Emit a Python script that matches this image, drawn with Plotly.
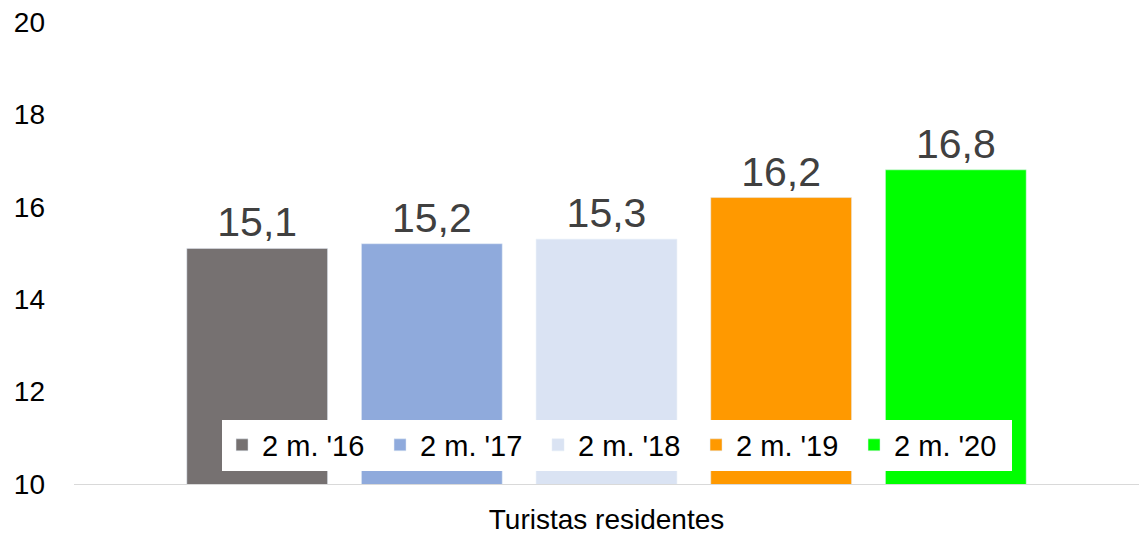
import plotly.graph_objects as go

categories = ["Turistas residentes"]
series_names = ["2 m. '16", "2 m. '17", "2 m. '18", "2 m. '19", "2 m. '20"]
series_values = [15.1, 15.2, 15.3, 16.2, 16.8]
colors = ["#767171", "#8FAADC", "#DAE3F3", "#FF9900", "#00FF00"]

fig = go.Figure()

for name, val, col in zip(series_names, series_values, colors):
    fig.add_trace(go.Bar(
        x=categories,
        y=[val],
        name=name,
        marker_color=col,
        texttemplate="%{y:.1f}",
        textposition="outside",
        textfont=dict(size=41, color="#404040"),
        cliponaxis=False,
    ))

fig.update_layout(
    width=1139,
    height=535,
    barmode="group",
    bargap=0.18,
    bargroupgap=0.194,
    separators=", ",
    paper_bgcolor="white",
    plot_bgcolor="white",
    font=dict(family="Liberation Sans, Arial", color="black", size=28),
    margin=dict(l=74, r=0, t=22, b=51),
    showlegend=True,
    legend=dict(
        orientation="h",
        x=0.139, xanchor="left",
        y=0.0844, yanchor="middle",
        bgcolor="white",
        font=dict(size=29, color="black"),
        itemwidth=30,
        entrywidth=113,
        entrywidthmode="pixels",
        traceorder="normal",
    ),
    xaxis=dict(
        showline=True,
        linecolor="#D9D9D9",
        linewidth=1,
        ticks="",
        tickfont=dict(size=28, color="black"),
        ticklabelstandoff=10,
    ),
    yaxis=dict(
        range=[10, 20],
        tickvals=[10, 12, 14, 16, 18, 20],
        showgrid=False,
        zeroline=False,
        showline=False,
        tickfont=dict(size=28, color="black"),
        ticklabelstandoff=28,
    ),
)

# drop the page's default body margin so the figure sits at the window's corner
fig.write_html(
    "out.html",
    config={"displayModeBar": False},
    post_script="document.body.style.margin = '0';",
)
